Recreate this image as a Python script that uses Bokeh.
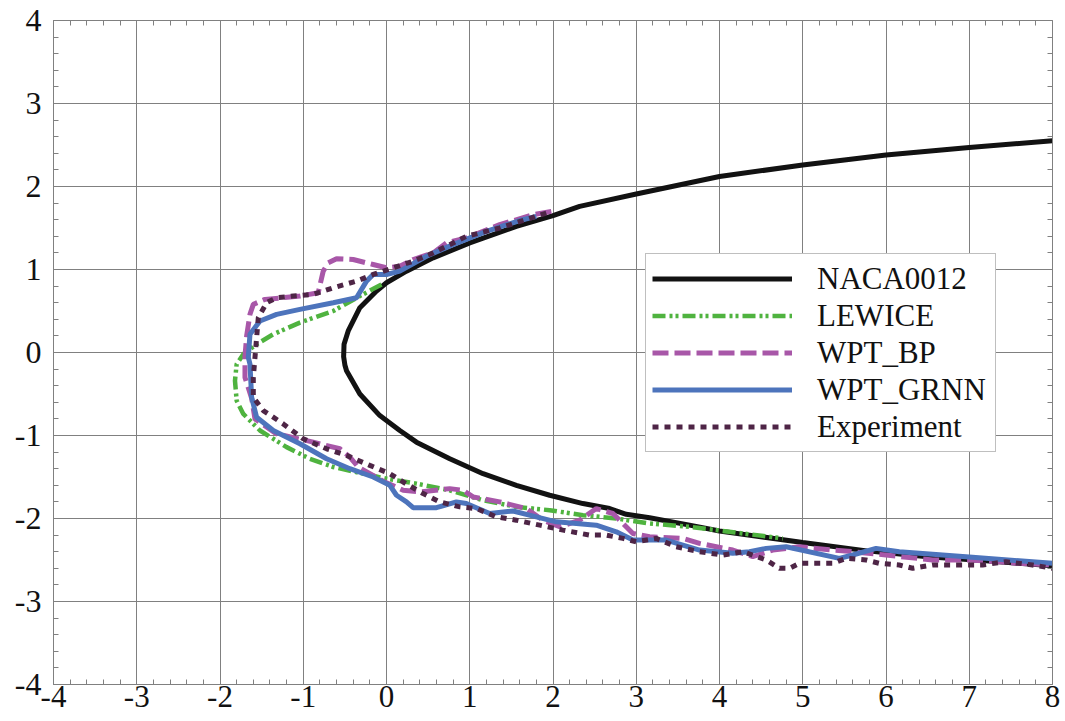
import numpy as np
from bokeh.plotting import figure
from bokeh.models import (SingleIntervalTicker, FixedTicker, LinearAxis, Legend,
                          LegendItem, Range1d)
from bokeh.embed import file_html
from bokeh.resources import INLINE

# ---------------- data ----------------
naca_x = [8.0, 7.0, 6.0, 5.0, 4.0, 3.0, 2.32, 2.0, 1.56, 1.0, 0.56, 0.24, 0.0,
          -0.12, -0.32, -0.46, -0.51, -0.515, -0.5, -0.48, -0.32, -0.08, 0.16,
          0.36, 0.76, 1.16, 1.56, 1.96, 2.36, 2.68, 2.88, 3.16, 3.64, 4.0, 5.0,
          5.77, 6.5, 7.2, 8.0]
naca_y = [2.55, 2.47, 2.38, 2.26, 2.12, 1.91, 1.76, 1.65, 1.52, 1.32, 1.14, 0.98,
          0.84, 0.74, 0.54, 0.26, 0.1, -0.05, -0.15, -0.22, -0.5, -0.76, -0.94,
          -1.08, -1.28, -1.46, -1.6, -1.72, -1.82, -1.88, -1.95, -1.99, -2.08,
          -2.15, -2.29, -2.39, -2.46, -2.51, -2.57]

lewice_x = [-0.06, -0.32, -0.64, -1.04, -1.36, -1.56, -1.72, -1.8, -1.82, -1.8,
            -1.72, -1.52, -1.2, -0.92, -0.64, -0.32, 0.0, 0.36, 0.76, 1.16, 1.56,
            1.96, 2.36, 2.76, 3.16, 3.64, 4.2, 4.76]
lewice_y = [0.82, 0.68, 0.5, 0.36, 0.22, 0.1, -0.02, -0.14, -0.34, -0.58, -0.74,
            -0.94, -1.14, -1.28, -1.38, -1.45, -1.52, -1.58, -1.66, -1.78, -1.86,
            -1.9, -1.96, -2.0, -2.06, -2.1, -2.17, -2.24]

bp_x = [1.98, 1.76, 1.36, 0.96, 0.72, 0.56, 0.32, 0.16, 0.0, -0.16, -0.4, -0.6,
        -0.7, -0.76, -0.82, -1.04, -1.24, -1.46, -1.6, -1.64, -1.68, -1.7, -1.7,
        -1.62, -1.58, -1.32, -0.88, -0.56, -0.44, -0.34, -0.04, 0.2, 0.4, 0.76,
        0.92, 1.04, 1.36, 1.68, 1.88, 2.08, 2.32, 2.52, 2.72, 2.96, 3.16, 3.56,
        3.76, 4.16, 4.4, 4.64, 4.96, 5.36, 5.6, 6.0, 6.56, 6.96, 7.36, 7.56, 8.0]
bp_y = [1.70, 1.66, 1.54, 1.38, 1.32, 1.2, 1.12, 1.04, 1.02, 1.06, 1.12, 1.13,
        1.08, 0.98, 0.72, 0.68, 0.66, 0.64, 0.58, 0.46, 0.2, -0.05, -0.3, -0.55,
        -0.8, -0.98, -1.08, -1.16, -1.26, -1.38, -1.55, -1.66, -1.68, -1.64,
        -1.66, -1.74, -1.8, -1.88, -2.02, -2.1, -2.02, -1.88, -1.94, -2.18,
        -2.22, -2.24, -2.3, -2.38, -2.46, -2.38, -2.34, -2.38, -2.4, -2.44, -2.5,
        -2.5, -2.52, -2.54, -2.56]

grnn_x = [1.8, 1.6, 1.2, 0.8, 0.48, 0.16, 0.0, -0.16, -0.24, -0.36, -0.64, -1.04,
          -1.32, -1.52, -1.64, -1.66, -1.64, -1.62, -1.56, -1.36, -1.04, -0.72,
          -0.44, -0.16, 0.04, 0.12, 0.24, 0.32, 0.6, 0.84, 0.96, 1.24, 1.52, 1.8,
          2.04, 2.52, 2.76, 2.96, 3.36, 3.76, 4.16, 4.36, 4.56, 4.8, 5.44, 5.6,
          5.88, 6.16, 6.96, 8.0]
grnn_y = [1.64, 1.59, 1.46, 1.3, 1.16, 0.98, 0.94, 0.94, 0.86, 0.66, 0.6, 0.52,
          0.46, 0.38, 0.22, -0.06, -0.14, -0.54, -0.78, -0.94, -1.1, -1.28, -1.4,
          -1.5, -1.6, -1.72, -1.8, -1.87, -1.87, -1.8, -1.82, -1.94, -1.91, -1.98,
          -2.04, -2.08, -2.16, -2.26, -2.26, -2.38, -2.42, -2.4, -2.36, -2.34,
          -2.48, -2.44, -2.36, -2.4, -2.46, -2.54]

exp_x = [1.92, 1.36, 0.96, 0.56, 0.32, 0.08, -0.16, -0.36, -0.64, -0.88, -1.12,
         -1.32, -1.44, -1.54, -1.56, -1.58, -1.6, -1.6, -1.48, -1.24, -1.0, -0.72,
         -0.48, -0.2, 0.04, 0.2, 0.44, 0.64, 0.88, 1.08, 1.32, 1.56, 1.84, 2.12,
         2.44, 2.64, 2.84, 3.0, 3.24, 3.48, 3.76, 4.04, 4.28, 4.56, 4.72, 4.84,
         4.96, 5.36, 5.52, 5.76, 5.92, 6.16, 6.32, 6.56, 7.16, 7.44, 7.76, 8.0]
exp_y = [1.68, 1.5, 1.4, 1.2, 1.1, 1.02, 0.94, 0.86, 0.78, 0.7, 0.68, 0.66, 0.6,
         0.42, 0.18, -0.06, -0.3, -0.54, -0.7, -0.86, -1.04, -1.16, -1.24, -1.36,
         -1.46, -1.56, -1.7, -1.8, -1.86, -1.88, -1.98, -2.02, -2.08, -2.14, -2.2,
         -2.2, -2.24, -2.28, -2.24, -2.34, -2.4, -2.44, -2.4, -2.5, -2.6, -2.6,
         -2.54, -2.54, -2.48, -2.5, -2.54, -2.56, -2.6, -2.56, -2.56, -2.52,
         -2.56, -2.6]

series_names = ["NACA0012", "LEWICE", "WPT_BP", "WPT_GRNN", "Experiment"]
x_tick_labels = {v: str(v) for v in range(-4, 9)}
y_tick_labels = {v: str(v) for v in range(-4, 5)}

# ---------------- figure ----------------
FONT = "Liberation Serif"
GRID = "#808080"

p = figure(width=1065, height=721, x_range=Range1d(-4, 8), y_range=Range1d(-4, 4),
           output_backend="svg", toolbar_location=None,
           min_border_left=53, min_border_right=13, min_border_top=20,
           min_border_bottom=37, background_fill_color="white",
           border_fill_color="white")
p.outline_line_color = GRID
p.outline_line_width = 1

tick = SingleIntervalTicker(interval=1, num_minor_ticks=5)
for ax in (p.xaxis[0], p.yaxis[0]):
    ax.ticker = tick
    ax.axis_line_color = GRID
    ax.major_tick_in = 0
    ax.major_tick_out = 0
    ax.minor_tick_in = 5
    ax.minor_tick_out = 0
    ax.minor_tick_line_color = GRID
    ax.major_label_text_font = FONT
    ax.major_label_text_color = "#111111"
p.xaxis[0].major_label_text_font_size = "31px"
p.yaxis[0].major_label_text_font_size = "32px"
p.xaxis[0].major_label_standoff = 1
p.yaxis[0].major_label_standoff = 12
p.xaxis[0].major_label_overrides = x_tick_labels
p.yaxis[0].major_label_overrides = y_tick_labels

minor = [v for v in np.arange(-4, 8.001, 0.2) if abs(v - round(v)) > 1e-6]
minor_y = [v for v in np.arange(-4, 4.001, 0.2) if abs(v - round(v)) > 1e-6]
extra = dict(axis_line_color=GRID, minor_tick_in=5, minor_tick_out=0,
             major_tick_in=0, major_tick_out=0, minor_tick_line_color=GRID,
             major_label_standoff=0, axis_label_standoff=0)
top_ax = LinearAxis(ticker=FixedTicker(ticks=[], minor_ticks=minor), **extra)
right_ax = LinearAxis(ticker=FixedTicker(ticks=[], minor_ticks=minor_y), **extra)
p.add_layout(top_ax, "above")
p.add_layout(right_ax, "right")

p.xgrid.ticker = tick
p.ygrid.ticker = tick
p.grid.grid_line_color = GRID
p.grid.grid_line_width = 1

r1 = p.line(naca_x, naca_y, line_color="#121212", line_width=5)
r2 = p.line(lewice_x, lewice_y, line_color="#4FB33F", line_width=4.5,
            line_dash="13 4 3 3 3 4")
r3 = p.line(bp_x, bp_y, line_color="#A857A8", line_width=5, line_dash="16 6")
r4 = p.line(grnn_x, grnn_y, line_color="#4D74BC", line_width=5)
r5 = p.line(exp_x, exp_y, line_color="#4E2546", line_width=5, line_dash="6 6")

legend = Legend(items=[LegendItem(label=n, renderers=[r]) for n, r in
                       zip(series_names, [r1, r2, r3, r4, r5])],
                location=(592, 232), orientation="vertical",
                glyph_width=140, glyph_height=37, label_height=37,
                label_width=172, label_standoff=25, spacing=0, padding=6,
                margin=0, label_text_font=FONT, label_text_font_size="31px",
                label_text_color="#111111", border_line_color=GRID,
                border_line_width=1, background_fill_color="white",
                background_fill_alpha=1.0)
p.add_layout(legend, "center")

open("out.html", "w").write(file_html(p, INLINE))
